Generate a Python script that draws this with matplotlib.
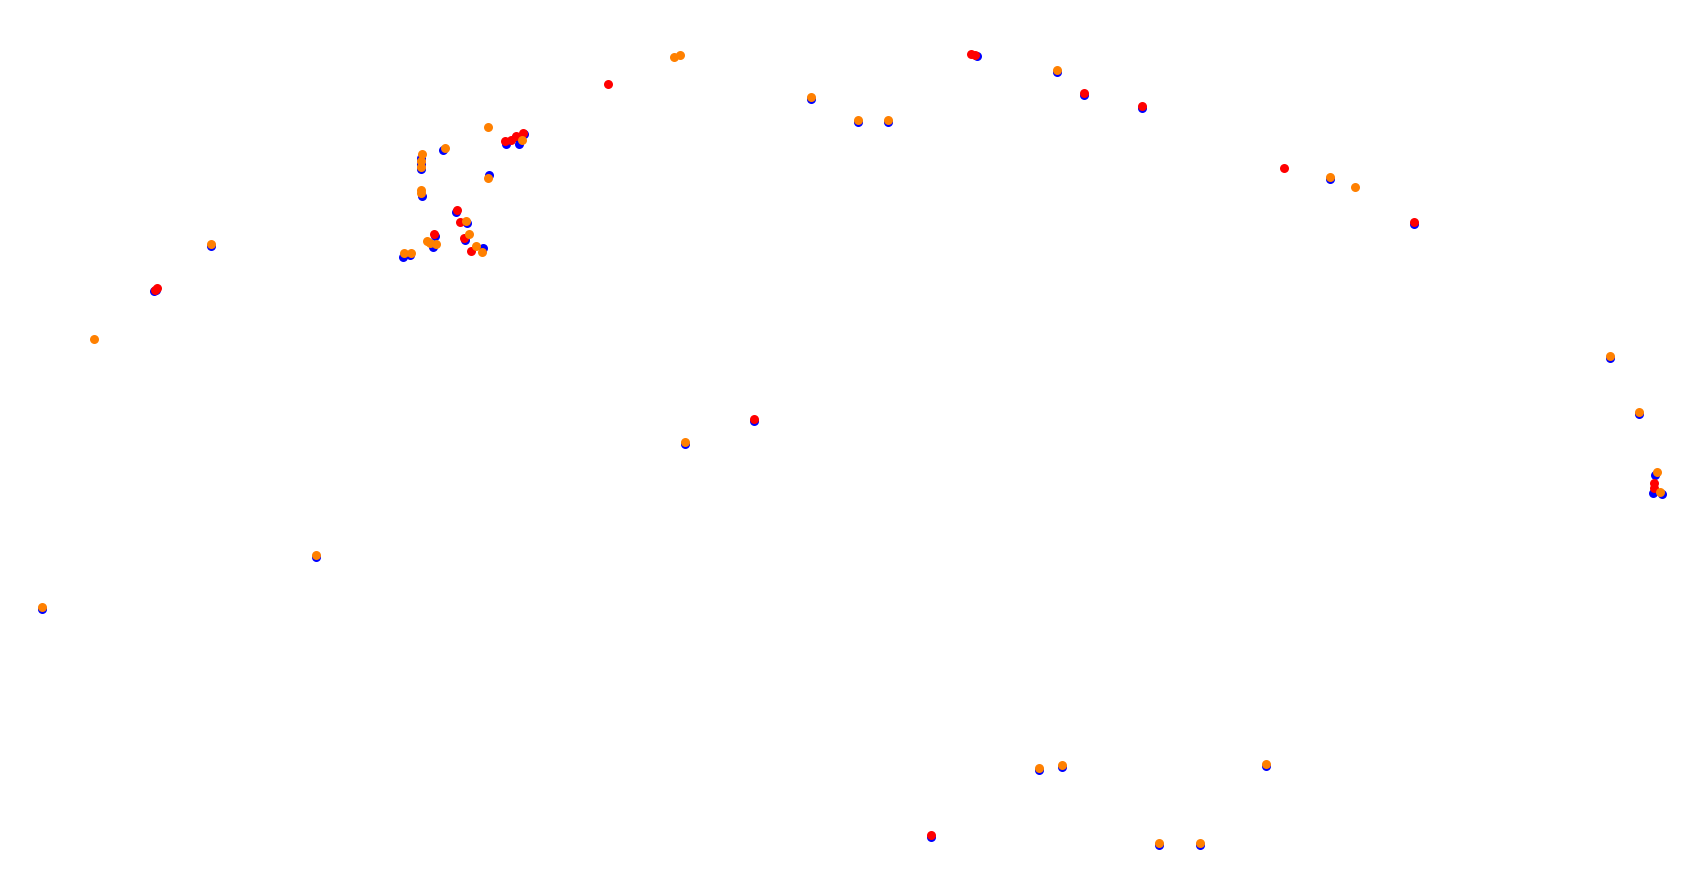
import matplotlib
matplotlib.use("Agg")
import matplotlib.pyplot as plt

blue_x = [811, 858, 888, 1057, 1084, 1142, 1330, 1414, 1610, 1639, 1655, 1653, 1662,
          1266, 1062, 1039, 931, 1159, 1200, 754, 685, 316, 42, 156, 154, 211, 977,
          506, 516, 524, 519, 443, 421, 422, 489, 456, 467, 465, 435, 433, 483, 403, 410, 421, 421]
blue_y = [99, 122, 122, 72, 95, 108, 179, 224, 358, 414, 475, 493, 494,
          766, 767, 770, 837, 845, 845, 421, 444, 557, 609, 290, 291, 246, 56,
          144, 137, 134, 144, 150, 169, 196, 175, 212, 223, 240, 236, 247, 248, 257, 255, 158, 164]

red_x = [608, 971, 975, 1084, 1142, 1284, 1414, 1654, 1654, 931, 754, 155, 157,
         505, 511, 516, 523, 457, 460, 464, 434, 471]
red_y = [84, 54, 55, 93, 106, 168, 222, 483, 488, 835, 419, 290, 288,
         141, 140, 136, 133, 210, 222, 238, 234, 251]

orange_x = [674, 680, 811, 858, 888, 1057, 1330, 1355, 1610, 1639, 1657, 1660, 1266,
            1062, 1039, 1159, 1200, 685, 316, 42, 94, 211,
            488, 522, 445, 422, 421, 421, 421, 421, 488, 466, 469, 427, 430, 436, 476, 482, 404, 411]
orange_y = [57, 55, 97, 120, 120, 70, 177, 187, 356, 412, 472, 492, 764,
            765, 768, 843, 843, 442, 555, 607, 339, 244,
            127, 140, 148, 154, 161, 167, 190, 193, 178, 221, 234, 241, 243, 244, 246, 252, 253, 253]

fig = plt.figure(figsize=(16.94, 8.80), dpi=100)
ax = fig.add_axes([0, 0, 1, 1])
ax.set_xlim(0, 1694)
ax.set_ylim(880, 0)
ax.axis("off")
size = 42
ax.scatter(blue_x, blue_y, s=size, c="#0000ff", linewidths=0)
ax.scatter(red_x, red_y, s=size, c="#ff0000", linewidths=0)
ax.scatter(orange_x, orange_y, s=size, c="#ff8000", linewidths=0)
fig.savefig("out.png", dpi=100, facecolor="white")
